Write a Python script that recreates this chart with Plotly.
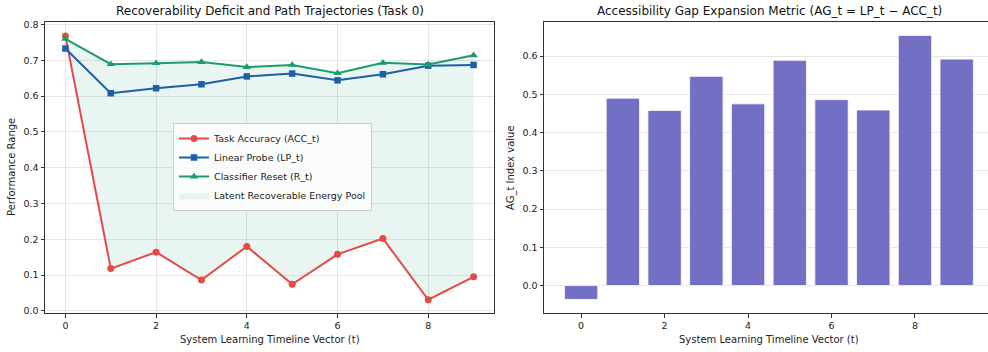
import plotly.graph_objects as go

t = list(range(10))
acc_t = [0.768, 0.118, 0.164, 0.086, 0.180, 0.074, 0.158, 0.202, 0.031, 0.095]
lp_t = [0.733, 0.608, 0.622, 0.633, 0.655, 0.663, 0.644, 0.661, 0.685, 0.687]
r_t = [0.760, 0.689, 0.692, 0.695, 0.681, 0.687, 0.664, 0.693, 0.688, 0.714]
ag_t = [-0.036, 0.490, 0.458, 0.547, 0.475, 0.589, 0.486, 0.459, 0.654, 0.592]

RED = "#e24b47"
BLUE = "#1d5fa8"
GREEN = "#1c9c6e"
BAR = "#736fc4"
FONT = "DejaVu Sans"

W, H = 988, 352
L1, R1 = 45, 494
L2, R2 = 544, 988
TOP, BOT = 22, 313


def px(x):
    return x / W


def py(y):
    return 1 - y / H


fig = go.Figure()

# fill between ACC and R
fig.add_trace(go.Scatter(x=t, y=acc_t, mode="lines", line=dict(width=0, color="rgba(0,0,0,0)"),
                         showlegend=False, hoverinfo="skip", xaxis="x", yaxis="y"))
fig.add_trace(go.Scatter(x=t, y=r_t, mode="lines", line=dict(width=0, color="rgba(0,0,0,0)"),
                         fill="tonexty", fillcolor="rgba(28,156,110,0.10)",
                         name="Latent Recoverable Energy Pool", legendrank=4,
                         xaxis="x", yaxis="y"))

fig.add_trace(go.Scatter(x=t, y=acc_t, mode="lines+markers", name="Task Accuracy (ACC_t)",
                         line=dict(color=RED, width=2), marker=dict(symbol="circle", size=7, color=RED),
                         legendrank=1, xaxis="x", yaxis="y"))
fig.add_trace(go.Scatter(x=t, y=lp_t, mode="lines+markers", name="Linear Probe (LP_t)",
                         line=dict(color=BLUE, width=2), marker=dict(symbol="square", size=6.5, color=BLUE),
                         legendrank=2, xaxis="x", yaxis="y"))
fig.add_trace(go.Scatter(x=t, y=r_t, mode="lines+markers", name="Classifier Reset (R_t)",
                         line=dict(color=GREEN, width=2), marker=dict(symbol="triangle-up", size=7.5, color=GREEN),
                         legendrank=3, xaxis="x", yaxis="y"))

fig.add_trace(go.Bar(x=t, y=ag_t, width=0.8, marker=dict(color=BAR, line=dict(color="rgba(255,255,255,0.8)", width=1)),
                     showlegend=False, xaxis="x2", yaxis="y2"))

axis_common = dict(showline=True, linecolor="#333333", linewidth=1, mirror=True,
                   ticks="outside", ticklen=3.5, tickcolor="#333333", tickwidth=1,
                   tickfont=dict(family=FONT, size=9.5, color="#222222"),
                   zeroline=False, gridcolor="rgba(200,200,200,0.45)", gridwidth=1)

ydom = [py(BOT), py(TOP)]

ann_common = dict(xref="paper", yref="paper", xanchor="center", yanchor="middle", showarrow=False)

fig.update_layout(
    width=W, height=H,
    margin=dict(l=0, r=0, t=0, b=0, autoexpand=False),
    paper_bgcolor="white", plot_bgcolor="white",
    font=dict(family=FONT, color="#222222"),
    xaxis=dict(domain=[px(L1), px(R1)], range=[-0.45, 9.45], tickvals=[0, 2, 4, 6, 8],
               showgrid=True, anchor="y", **axis_common),
    yaxis=dict(domain=ydom, range=[-0.006, 0.807], tickvals=[0, 0.1, 0.2, 0.3, 0.4, 0.5, 0.6, 0.7, 0.8],
               tickformat=".1f", showgrid=True, anchor="x", **axis_common),
    xaxis2=dict(domain=[px(L2), px(R2)], range=[-0.89, 9.75], tickvals=[0, 2, 4, 6, 8],
                showgrid=False, anchor="y2", **axis_common),
    yaxis2=dict(domain=ydom, range=[-0.0716, 0.689], tickvals=[0, 0.1, 0.2, 0.3, 0.4, 0.5, 0.6],
                tickformat=".1f", showgrid=True, anchor="x2", **axis_common),
    legend=dict(x=px(173), y=py(123), xref="paper", yref="paper",
                xanchor="left", yanchor="top", traceorder="normal",
                bgcolor="rgba(255,255,255,0.8)", bordercolor="#cccccc", borderwidth=1,
                font=dict(family=FONT, size=9.5, color="#222222"),
                tracegroupgap=0, itemwidth=30),
    showlegend=True,
    annotations=[
        dict(text="Recoverability Deficit and Path Trajectories (Task 0)", x=px((L1 + R1) / 2), y=py(11),
             font=dict(family=FONT, size=12, color="#111111"), **ann_common),
        dict(text="Accessibility Gap Expansion Metric (AG_t = LP_t \u2212 ACC_t)", x=px((L2 + 994) / 2),
             y=py(11), font=dict(family=FONT, size=12, color="#111111"), **ann_common),
        dict(text="System Learning Timeline Vector (t)", x=px((L1 + R1) / 2), y=py(339),
             font=dict(family=FONT, size=10, color="#222222"), **ann_common),
        dict(text="System Learning Timeline Vector (t)", x=px((L2 + 994) / 2), y=py(339),
             font=dict(family=FONT, size=10, color="#222222"), **ann_common),
        dict(text="Performance Range", x=px(12), y=py(167), textangle=-90,
             font=dict(family=FONT, size=10, color="#222222"), **ann_common),
        dict(text="AG_t Index value", x=px(511), y=py(167), textangle=-90,
             font=dict(family=FONT, size=10, color="#222222"), **ann_common),
    ],
)

fig.write_html("out.html", config={"displayModeBar": False},
               post_script="document.body.style.margin='0';document.body.style.overflow='hidden';")
